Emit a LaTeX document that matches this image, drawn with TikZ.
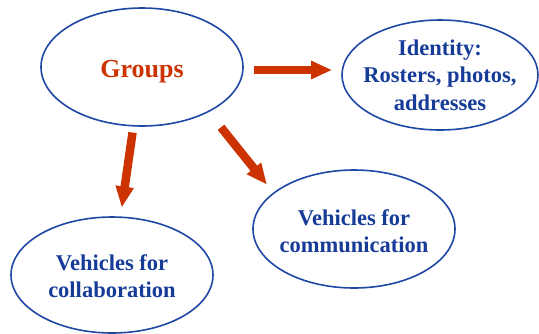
\documentclass[tikz,border=0pt]{standalone}
\usepackage{fontspec}
\setmainfont{Liberation Serif}
\usetikzlibrary{shapes.geometric,arrows.meta}
\definecolor{ovalblue}{HTML}{1F48A6}
\definecolor{textblue}{HTML}{163C98}
\definecolor{arrowred}{HTML}{CC3300}

\begin{document}
\begin{tikzpicture}[x=1pt,y=1pt,
    oval/.style={ellipse, draw=ovalblue, line width=1.6pt, inner sep=0pt},
    ovaltext/.style={align=center, inner sep=0pt, text=textblue,
        font=\fontsize{22.5}{27.5}\selectfont\bfseries},
    bigarrow/.style={draw=arrowred, line width=8.5pt,
        -{Triangle[length=21pt,width=17pt]}}]
    \useasboundingbox (0,0) rectangle (539,-333);
    \node[oval, minimum width=202pt, minimum height=118pt,
        label={[ovaltext, text=arrowred, yshift=-5pt, font=\fontsize{26}{30}\selectfont\bfseries]center:Groups}] (groups) at (142,-67) {};
    \node[oval, minimum width=196pt, minimum height=110pt,
        label={[ovaltext]center:Identity:\\Rosters, photos,\\addresses}] (identity) at (440,-75) {};
    \node[oval, minimum width=202pt, minimum height=116pt,
        label={[ovaltext, yshift=-1pt]center:Vehicles for\\collaboration}] (collab) at (112,-275) {};
    \node[oval, minimum width=202pt, minimum height=118pt,
        label={[ovaltext, yshift=-2pt]center:Vehicles for\\communication}] (comm) at (354,-229) {};
    \draw[bigarrow] ([shift={(10pt,-3pt)}]groups.east) -- ([shift={(-9pt,5pt)}]identity.west);
    \draw[bigarrow, shorten <=6pt, shorten >=9pt] (groups) -- (collab);
    \draw[bigarrow] ([shift={(7pt,-18pt)}]groups.south east) -- ([shift={(-15pt,2pt)}]comm.north west);
\end{tikzpicture}
\end{document}
